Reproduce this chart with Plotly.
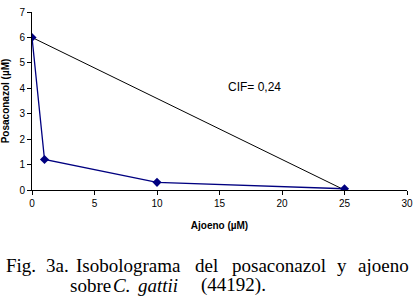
import plotly.graph_objects as go

ajoeno = [0, 1, 10, 25]
posaconazol = [6, 1.2, 0.3, 0.05]
additive_x = [0, 25]
additive_y = [6, 0]
x_ticks = [0, 5, 10, 15, 20, 25, 30]
y_ticks = [0, 1, 2, 3, 4, 5, 6, 7]

L, R, T, B = 32, 12, 12, 110
W, H = 419, 300

fig = go.Figure()
fig.add_trace(go.Scatter(x=additive_x, y=additive_y, mode="lines",
                         line=dict(color="black", width=1), showlegend=False))
fig.add_trace(go.Scatter(x=ajoeno, y=posaconazol, mode="lines+markers",
                         line=dict(color="#000080", width=1.3),
                         marker=dict(symbol="diamond", size=7, color="#000080"),
                         showlegend=False))

axis_font = dict(family="Liberation Sans, Arial", size=10, color="black")
fig.update_xaxes(range=[0, 30], tickvals=x_ticks, ticks="outside", ticklen=4,
                 showline=True, linecolor="black", linewidth=1, showgrid=False,
                 zeroline=False, tickfont=axis_font, tickcolor="black", automargin=False,
                 title=dict(text="<b>Ajoeno (µM)</b>", font=axis_font, standoff=13))
fig.update_yaxes(range=[0, 7], tickvals=y_ticks, ticks="outside", ticklen=4,
                 showline=True, linecolor="black", linewidth=1, showgrid=False,
                 zeroline=False, tickfont=axis_font, tickcolor="black", automargin=False,
                 title=dict(text="<b>Posaconazol (µM)</b>", font=axis_font, standoff=8))

fig.add_annotation(x=17.8, y=4.05, text="CIF= 0,24", showarrow=False,
                   font=dict(family="Liberation Sans, Arial", size=12, color="black"))

cap_font = dict(family="Liberation Serif, Times New Roman", size=19, color="black")
line1 = [("Fig.", 21), ("3a.", 57), ("Isobolograma", 128), ("del", 206),
         ("posaconazol", 279), ("y", 342), ("ajoeno", 383)]
line2 = [("sobre", 90), ("<i>C.</i>", 121), ("<i>gattii</i>", 158), ("(44192).", 233)]
for words, py in ((line1, 265), (line2, 285)):
    for txt, px in words:
        fig.add_annotation(xref="paper", yref="paper", x=0, y=0, xanchor="center",
                           yanchor="middle", xshift=px - L, yshift=-(py - (H - B)),
                           text=txt, showarrow=False, font=cap_font)

fig.update_layout(width=W, height=H, margin=dict(l=L, r=R, t=T, b=B, autoexpand=False),
                  plot_bgcolor="white", paper_bgcolor="white")
fig.write_html("out.html", config={"displayModeBar": False},
               post_script="document.body.style.margin='0px';")
